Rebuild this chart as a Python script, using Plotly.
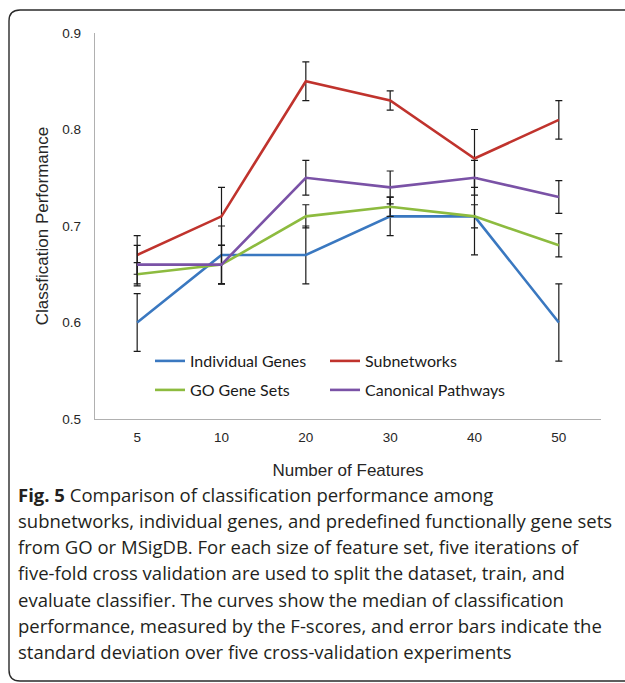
import plotly.graph_objects as go

# ---- data ----
features = ['5', '10', '20', '30', '40', '50']
individual_genes = [0.60, 0.67, 0.67, 0.71, 0.71, 0.60]
individual_err = [0.03, 0.03, 0.03, 0.02, 0.04, 0.04]
subnetworks = [0.67, 0.71, 0.85, 0.83, 0.77, 0.81]
subnetworks_err = [0.02, 0.03, 0.02, 0.01, 0.03, 0.02]
go_gene_sets = [0.65, 0.66, 0.71, 0.72, 0.71, 0.68]
go_err = [0.012, 0.02, 0.012, 0.01, 0.012, 0.012]
canonical = [0.66, 0.66, 0.75, 0.74, 0.75, 0.73]
canonical_err = [0.02, 0.02, 0.018, 0.017, 0.018, 0.017]
y_ticks = [0.5, 0.6, 0.7, 0.8, 0.9]

caption_lines = [
    "<b>Fig. 5</b> Comparison of classification performance among",
    "subnetworks, individual genes, and predefined functionally gene sets",
    "from GO or MSigDB. For each size of feature set, five iterations of",
    "five-fold cross validation are used to split the dataset, train, and",
    "evaluate classifier. The curves show the median of classification",
    "performance, measured by the F-scores, and error bars indicate the",
    "standard deviation over five cross-validation experiments",
]

# ---- layout geometry (pixels) ----
W, H = 625, 683
L, R, T, B = 95, 24, 33, 264
PW = W - L - R
PH = H - T - B


def px(x):
    return (x - L) / PW


def py(y):
    return (H - B - y) / PH


# name, values, errors, colour, legend id, legend position (px)
series = [
    ("Individual Genes", individual_genes, individual_err, "#3a78c0", "legend", (150, 361)),
    ("Subnetworks", subnetworks, subnetworks_err, "#c0332d", "legend2", (325, 361)),
    ("GO Gene Sets", go_gene_sets, go_err, "#8dbb3f", "legend3", (150, 390)),
    ("Canonical Pathways", canonical, canonical_err, "#7a52a6", "legend4", (325, 390)),
]

fig = go.Figure()
legends = {}
for name, vals, errs, color, lg, (lx, ly) in series:
    fig.add_trace(go.Scatter(
        x=features, y=vals, name=name, mode="lines",
        line=dict(color=color, width=2.6),
        error_y=dict(type="data", array=errs, visible=True,
                     color="#1a1a1a", thickness=1.2, width=3.5),
        legend=lg, showlegend=True,
    ))
    legends[lg] = dict(
        x=px(lx), y=py(ly), orientation="h", xanchor="left", yanchor="middle",
        font=dict(family="Lato", size=16, color="#1a1a1a"),
        bgcolor="rgba(0,0,0,0)", itemclick=False, itemdoubleclick=False,
    )

annotations = []
for i, line in enumerate(caption_lines):
    annotations.append(dict(
        text=line, xref="paper", yref="paper", x=px(16), y=py(494 + i * 26.3),
        xanchor="left", yanchor="middle", showarrow=False, align="left",
        font=dict(family="Open Sans", size=18.5, color="#231f20"),
    ))

border_path = (
    f"M {px(640)},{py(10)} L {px(20)},{py(10)} "
    f"Q {px(9)},{py(10)} {px(9)},{py(21)} "
    f"L {px(9)},{py(670)} Q {px(9)},{py(681)} {px(20)},{py(681)} "
    f"L {px(640)},{py(681)}"
)

fig.update_layout(
    width=W, height=H,
    showlegend=True,
    margin=dict(l=L, r=R, t=T, b=B, autoexpand=False),
    paper_bgcolor="white", plot_bgcolor="white",
    font=dict(family="Liberation Sans, Arial", color="#262626"),
    xaxis=dict(
        type="category", range=[-0.5, 5.5], showgrid=False, zeroline=False,
        showline=True, linecolor="#b0b0b0", linewidth=1.3,
        ticks="outside", ticklen=6, tickcolor="rgba(0,0,0,0)",
        tickfont=dict(size=13.5),
        title=dict(text="Number of Features", font=dict(size=17), standoff=19),
    ),
    yaxis=dict(
        range=[0.5, 0.9], tickvals=y_ticks, tickformat=".1f",
        showgrid=False, zeroline=False,
        showline=True, linecolor="#b0b0b0", linewidth=1.3,
        ticks="outside", ticklen=10, tickcolor="rgba(0,0,0,0)",
        tickfont=dict(size=13.5),
        title=dict(text="Classfication Performance", font=dict(size=17), standoff=9),
    ),
    annotations=annotations,
    shapes=[dict(type="path", path=border_path, xref="paper", yref="paper",
                 line=dict(color="#2a2a2a", width=1.4))],
    **legends,
)

fig.write_html("out.html")
